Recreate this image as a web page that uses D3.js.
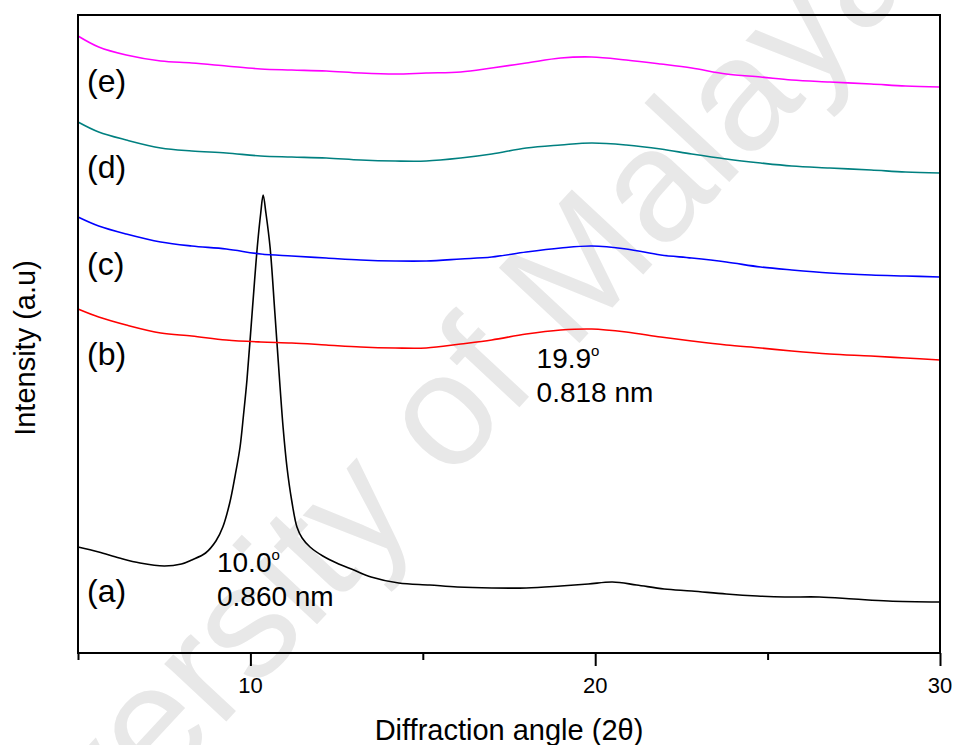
<!DOCTYPE html>
<html>
<head>
<meta charset="utf-8">
<script src="https://d3js.org/d3.v7.min.js"></script>
<style>
  body { margin: 0; padding: 0; background: #fff; }
  svg text { font-family: Arial, "Liberation Sans", sans-serif; }
</style>
</head>
<body>
<div id="svg_cont"></div>
<script>

// ---- data (2theta in degrees, intensity in a.u.) ----
var angle_a = [5.0, 5.6, 6.2, 6.8, 7.5, 8.0, 8.3, 8.7, 9.0, 9.2, 9.4, 9.55, 9.7, 9.8, 9.9,
               10.05, 10.2, 10.3, 10.37, 10.45, 10.57, 10.71, 10.86, 10.95, 11.06, 11.2,
               11.35, 11.5, 11.73, 12.1, 12.5, 13.0, 13.5, 14.3, 15.2, 16.0, 17.0, 18.0,
               19.0, 19.8, 20.5, 21.2, 22.0, 22.8, 23.8, 24.7, 25.5, 26.5, 27.5, 28.5, 30.0];
var intens_a = [106, 101, 95, 90, 87, 89, 93, 100, 112, 126, 150, 176, 206, 238, 273,
                340, 406, 440, 458, 440, 406, 340, 266, 225, 186, 152,
                126, 115, 106, 97, 90, 83, 76, 70, 68, 66, 65, 65,
                67, 69, 71, 68, 64, 62, 59, 57, 56, 56, 54, 52, 51];

var angle_be = [5.0, 5.6, 6.4, 7.4, 8.3, 9.3, 10.3, 11.2, 12.2, 13.2, 14.2, 15.1, 16.1, 17.0,
                18.0, 19.0, 19.9, 20.9, 21.9, 22.8, 23.8, 24.8, 25.7, 26.8, 28.0, 29.0, 30.0];
var intens_b = [344, 336, 328, 320, 317, 313, 311, 310, 308, 306, 305, 305, 309, 313,
                319, 323, 324, 321, 316, 312, 308, 305, 302, 299, 297, 295, 293];
var intens_c = [436, 427, 419, 411, 407, 404, 399, 397, 395, 393, 392, 392, 394, 396,
                401, 405, 407, 404, 398, 395, 391, 386, 383, 380, 378, 377, 376];
var intens_d = [531, 521, 513, 505, 502, 500, 497, 496, 495, 493, 492, 492, 495, 499,
                505, 508, 510, 508, 504, 499, 494, 490, 487, 485, 483, 481, 480];
var intens_e = [617, 606, 598, 592, 590, 587, 584, 583, 582, 580, 579, 580, 581, 585,
                590, 595, 596, 593, 589, 585, 579, 576, 573, 571, 569, 567, 566];

var series_names = ['(a)', '(b)', '(c)', '(d)', '(e)'];
var series_colors = ['#000000', '#ff0000', '#0000ff', '#008080', '#ff00ff'];
var series_label_val = [51, 288, 378, 475, 561];   // baseline level of the (a)..(e) labels

var major_ticks = [10, 20, 30];
var minor_ticks = [5, 15, 25];

var peak_notes = [
  {angle: 9.03, level: 81, lines: ['10.0', '0.860 nm']},
  {angle: 18.3, level: 285, lines: ['19.9', '0.818 nm']}
];

// ---- layout ----
var w = 957, h = 745;
var m = {left: 78, right: 17, top: 15, bottom: 92};

var svg_main = d3.select('div#svg_cont')
  .append('svg')
  .attr('width', w)
  .attr('height', h);

var x = d3.scaleLinear().domain([5, 30]).range([m.left, w - m.right]);
var y = d3.scaleLinear().domain([0, 638]).range([h - m.bottom, m.top]);

// faint watermark
svg_main.append('text')
  .attr('transform', 'translate(431,502) rotate(-47)')
  .attr('text-anchor', 'middle')
  .style('font-size', '160px')
  .style('fill', '#e8e8e8')
  .text('University of Malaya');

var series = [
  {ang: angle_a, val: intens_a},
  {ang: angle_be, val: intens_b},
  {ang: angle_be, val: intens_c},
  {ang: angle_be, val: intens_d},
  {ang: angle_be, val: intens_e}
];

var line = d3.line()
  .x(d => x(d[0]))
  .y(d => y(d[1]))
  .curve(d3.curveCatmullRom.alpha(0.5));

svg_main.selectAll('path.trace')
  .data(series)
  .enter().append('path')
    .attr('class', 'trace')
    .attr('d', s => line(d3.zip(s.ang, s.val)))
    .attr('fill', 'none')
    .attr('stroke', (s, i) => series_colors[i])
    .attr('stroke-width', 1.6)
    .attr('stroke-linejoin', 'round');

// curve labels
svg_main.selectAll('text.lab')
  .data(series_names)
  .enter().append('text')
    .attr('class', 'lab')
    .attr('x', 87)
    .attr('y', (d, i) => y(series_label_val[i]))
    .style('font-size', '32px')
    .text(d => d);

// peak annotations
peak_notes.forEach(function(p) {
  var t = svg_main.append('text')
    .attr('x', x(p.angle))
    .attr('y', y(p.level))
    .style('font-size', '28px');
  t.append('tspan').text(p.lines[0]);
  t.append('tspan').attr('dy', -12).style('font-size', '15px').text('o');
  svg_main.append('text')
    .attr('x', x(p.angle))
    .attr('y', y(p.level) + 34)
    .style('font-size', '28px')
    .text(p.lines[1]);
});

// frame
svg_main.append('rect')
  .attr('x', m.left)
  .attr('y', m.top)
  .attr('width', w - m.left - m.right)
  .attr('height', h - m.top - m.bottom)
  .attr('fill', 'none')
  .attr('stroke', '#000')
  .attr('stroke-width', 2);

// bottom axis: major and minor tick marks
var x_axis = svg_main.append('g')
  .attr('transform', 'translate(0,' + (h - m.bottom) + ')')
  .call(d3.axisBottom(x).tickValues(major_ticks).tickSize(13).tickFormat(''));
x_axis.select('.domain').remove();
x_axis.selectAll('line').attr('stroke-width', 2);

var x_minor = svg_main.append('g')
  .attr('transform', 'translate(0,' + (h - m.bottom) + ')')
  .call(d3.axisBottom(x).tickValues(minor_ticks).tickSize(7).tickFormat(''));
x_minor.select('.domain').remove();
x_minor.selectAll('line').attr('stroke-width', 2);

// tick labels
svg_main.selectAll('text.tick_lab')
  .data(major_ticks)
  .enter().append('text')
    .attr('class', 'tick_lab')
    .attr('x', d => x(d))
    .attr('y', 693)
    .attr('text-anchor', 'middle')
    .style('font-size', '22px')
    .text(d => d);

// axis titles
var xt = svg_main.append('text')
  .attr('x', (m.left + w - m.right) / 2)
  .attr('y', 740)
  .attr('text-anchor', 'middle')
  .style('font-size', '29px');
xt.append('tspan').text('Diffraction angle (2');
xt.append('tspan').text('θ');
xt.append('tspan').text(')');

svg_main.append('text')
  .attr('transform', 'translate(35,348) rotate(-90)')
  .attr('text-anchor', 'middle')
  .style('font-size', '29px')
  .text('Intensity (a.u)');

</script>
</body>
</html>
